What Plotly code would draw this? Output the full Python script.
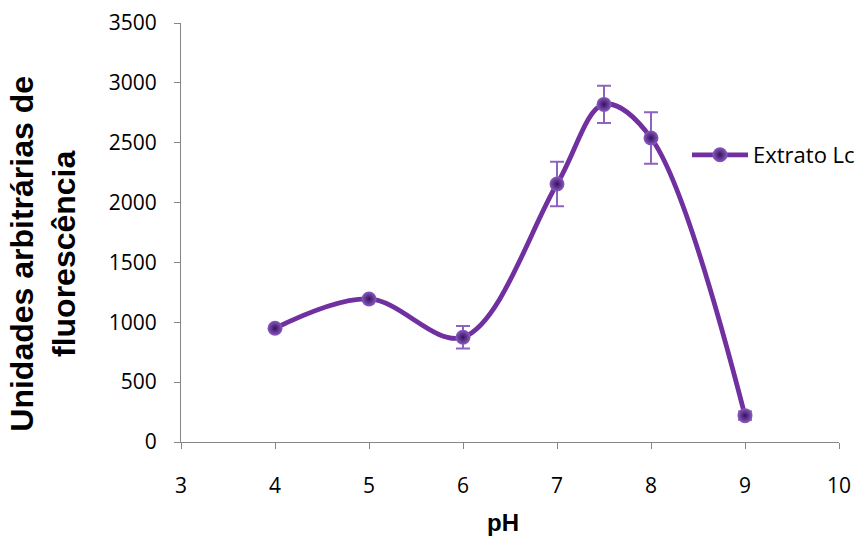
import plotly.graph_objects as go

ph = [4, 5, 6, 7, 7.5, 8, 9]
fluor = [950, 1195, 875, 2155, 2820, 2540, 220]
err = [0, 0, 95, 185, 155, 215, 35]
x_ticks = [3, 4, 5, 6, 7, 8, 9, 10]
y_ticks = [0, 500, 1000, 1500, 2000, 2500, 3000, 3500]
series_name = "Extrato Lc"
x_title = "pH"
y_title = "Unidades arbitrárias de<br>fluorescência"

fig = go.Figure()
fig.add_trace(go.Scatter(
    x=ph, y=fluor, name=series_name, mode="lines+markers",
    line=dict(color="#7030A0", width=4.8, shape="spline", smoothing=1.0),
    marker=dict(size=15, color="#8A5CC0",
                gradient=dict(type="radial", color="#36105F"),
                line=dict(width=0)),
    error_y=dict(type="data", array=err, visible=True,
                 color="#8E63BF", thickness=2, width=7),
))

fig.update_layout(
    width=859, height=538,
    margin=dict(l=181, r=20, t=23, b=96, autoexpand=False),
    paper_bgcolor="white", plot_bgcolor="white",
    font=dict(family="Open Sans, Liberation Sans, sans-serif", color="black"),
    showlegend=True,
    legend=dict(x=0.769, y=0.685, xanchor="left", yanchor="middle",
                bgcolor="rgba(0,0,0,0)", itemwidth=56,
                font=dict(family="Open Sans, Liberation Sans, sans-serif", size=22, color="black")),
)
fig.update_xaxes(
    range=[3, 10], tickvals=x_ticks, showgrid=False, zeroline=False,
    showline=True, linecolor="#868686", linewidth=1, automargin=False,
    ticks="outside", ticklen=6, tickcolor="#868686",
    tickfont=dict(size=21), ticklabelstandoff=19,
)
fig.update_yaxes(
    range=[0, 3500], tickvals=y_ticks, showgrid=False, zeroline=False,
    showline=True, linecolor="#868686", linewidth=1, automargin=False,
    ticks="outside", ticklen=6, tickcolor="#868686",
    tickfont=dict(size=21), ticklabelstandoff=13,
)
fig.add_annotation(
    text="<b>" + x_title + "</b>", xref="paper", yref="paper",
    x=0.49, y=-0.193, xanchor="center", yanchor="middle", showarrow=False,
    font=dict(family="Liberation Sans, Arial, sans-serif", size=24, color="black"),
)
fig.add_annotation(
    text="<b>" + y_title + "</b>", xref="paper", yref="paper",
    x=-0.21, y=0.449, xanchor="center", yanchor="middle", showarrow=False,
    textangle=-90,
    font=dict(family="Liberation Sans, Arial, sans-serif", size=32, color="black"),
)

fig.write_html("out.html")
